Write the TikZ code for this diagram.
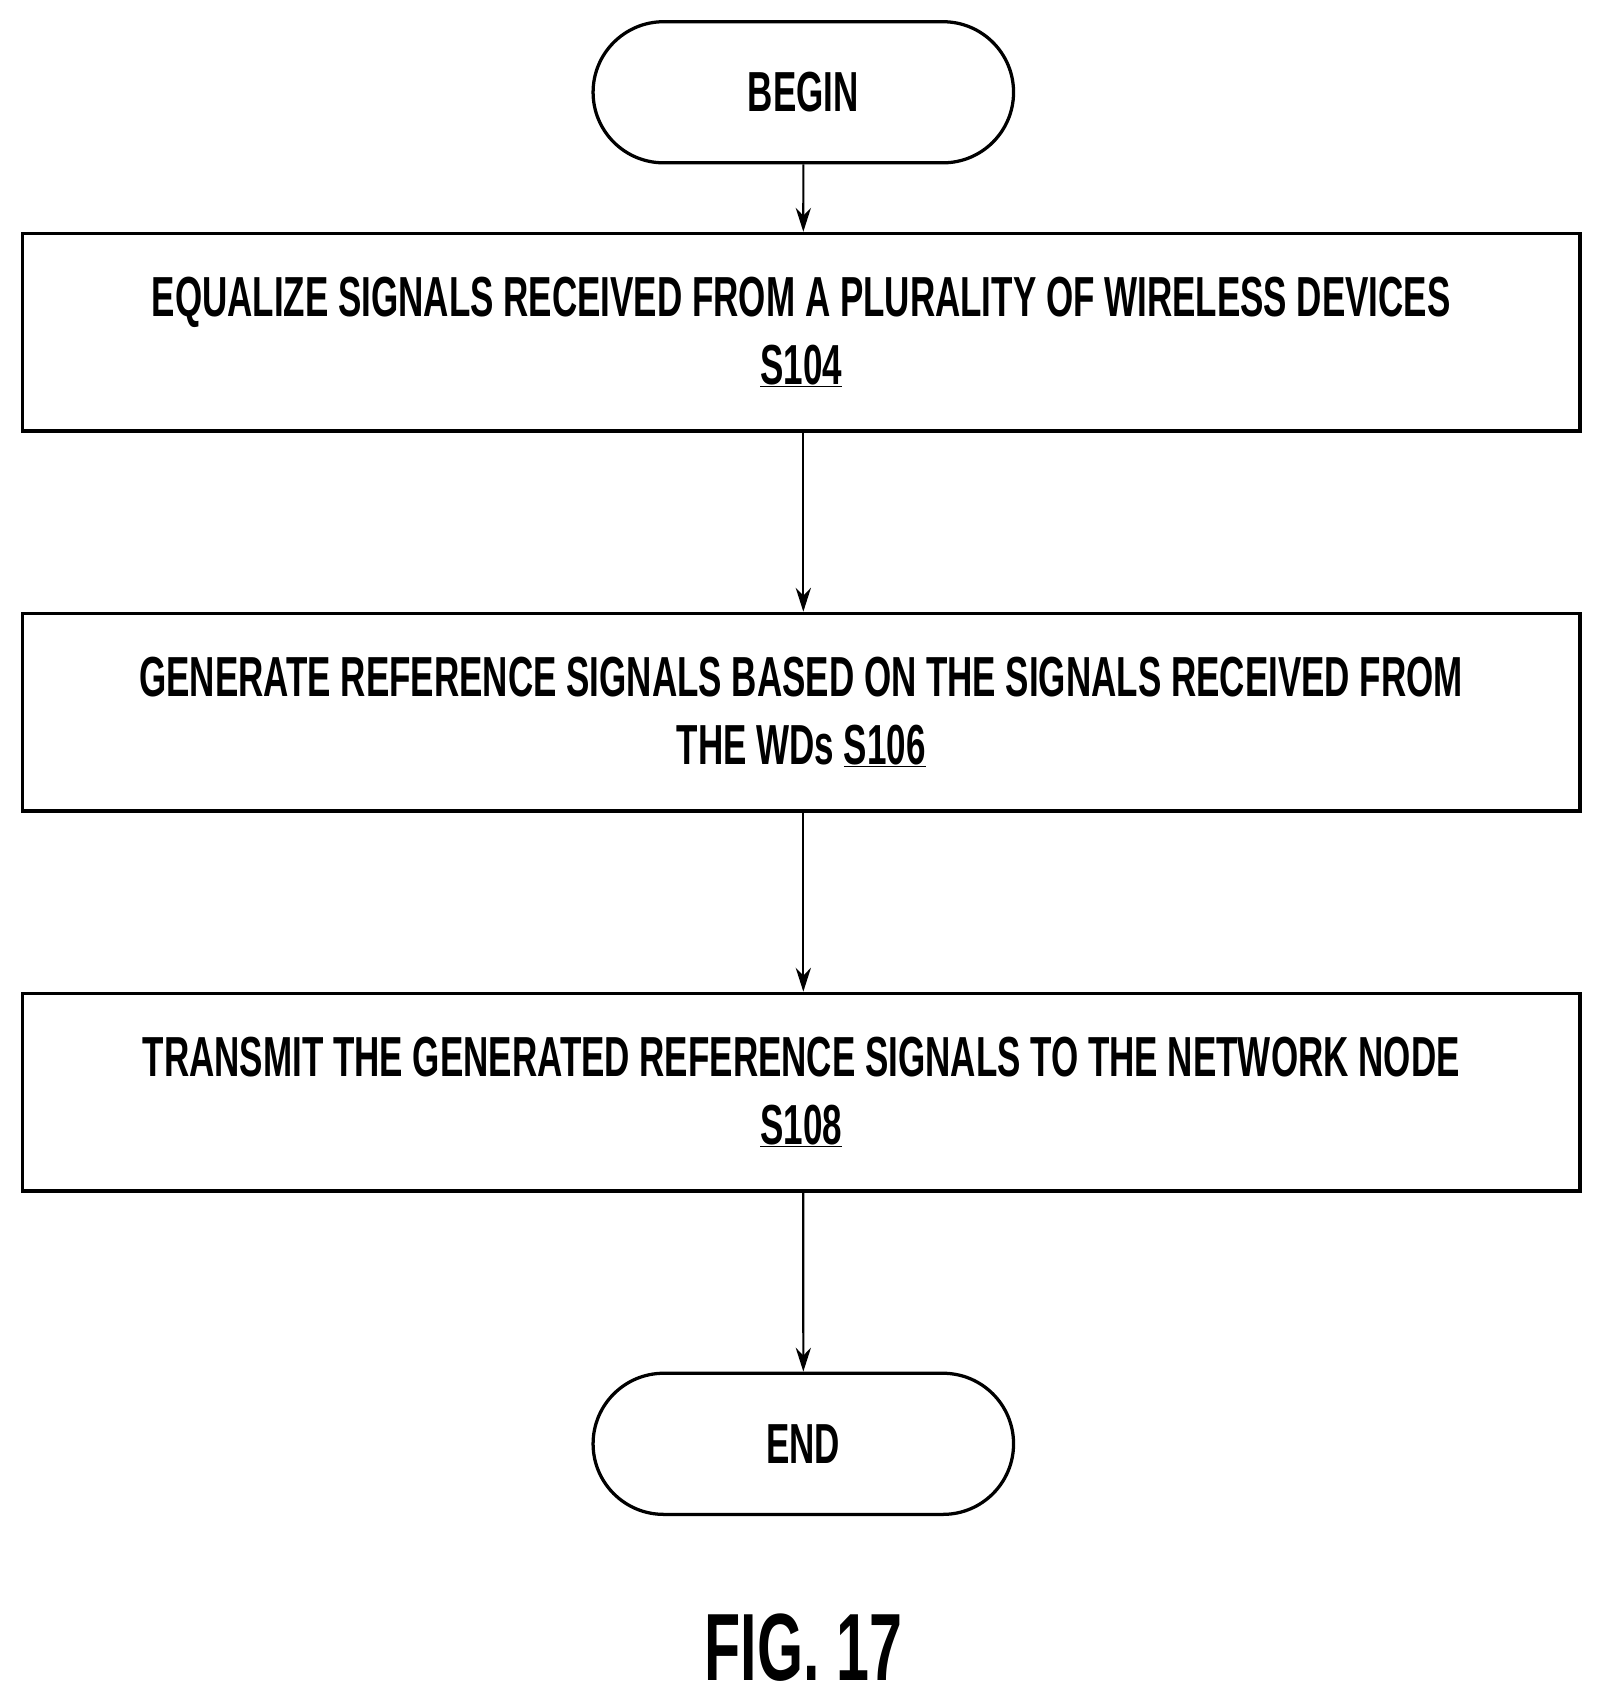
\documentclass[tikz,border=0pt]{standalone}
\usepackage{fontspec}
\setmainfont{Liberation Sans}[BoldFeatures={FakeStretch=0.62}]
\usetikzlibrary{shapes.misc,arrows.meta}
\begin{document}
\begin{tikzpicture}[x=1pt,y=-1pt,
  every node/.style={font=\fontsize{52}{64}\selectfont\bfseries},
  term/.style={rounded rectangle,draw,line width=3pt,minimum width=394pt,minimum height=130pt},
  box/.style={draw,line width=3pt,minimum width=1435pt,minimum height=182pt,align=center,inner sep=0pt},
  arr/.style={-{Stealth[length=22pt,width=14pt]},line width=2pt}]
\useasboundingbox (0,0) rectangle (1480,1566);
\node[term] (b) at (740,85) {BEGIN};
\node[box] (s1) at (738,306) {EQUALIZE SIGNALS RECEIVED FROM A PLURALITY OF WIRELESS DEVICES\\[-2pt]\underline{S104}};
\node[box] (s2) at (738,656) {GENERATE REFERENCE SIGNALS BASED ON THE SIGNALS RECEIVED FROM\\[-2pt]THE WDs \underline{S106}};
\node[box] (s3) at (738,1006) {TRANSMIT THE GENERATED REFERENCE SIGNALS TO THE NETWORK NODE\\[-2pt]\underline{S108}};
\node[term] (e) at (740,1330) {END};
\node[font=\fontsize{88}{96}\selectfont\bfseries] (f) at (740,1518) {FIG. 17};
\draw[arr] (b) -- (b|-s1.north);
\draw[arr] (s1.south-|b) -- (b|-s2.north);
\draw[arr] (s2.south-|b) -- (b|-s3.north);
\draw[arr] (s3.south-|b) -- (e);
\end{tikzpicture}
\end{document}
